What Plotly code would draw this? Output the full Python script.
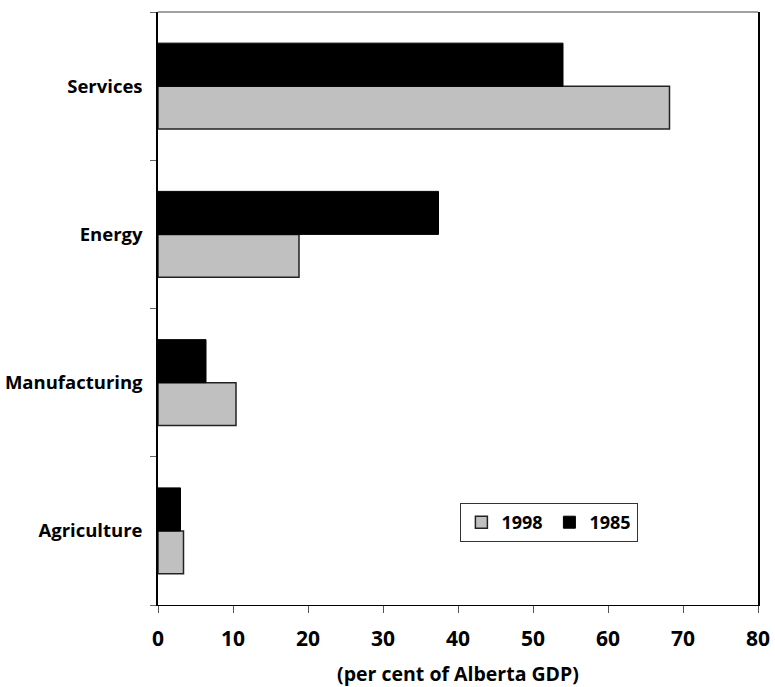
import plotly.graph_objects as go

# Share of Alberta GDP by sector (per cent)
sectors = ["Agriculture", "Manufacturing", "Energy", "Services"]
share_1998 = [3.4, 10.4, 18.8, 68.2]
share_1985 = [3.0, 6.4, 37.4, 54.0]
x_ticks = [0, 10, 20, 30, 40, 50, 60, 70, 80]

FONT = "Open Sans"

fig = go.Figure()
fig.add_trace(go.Bar(
    y=sectors, x=share_1998, name="1998", orientation="h",
    marker=dict(color="#c0c0c0", line=dict(color="#222222", width=1.5)),
))
fig.add_trace(go.Bar(
    y=sectors, x=share_1985, name="1985", orientation="h",
    marker=dict(color="#000000", line=dict(color="#000000", width=1)),
))

fig.update_layout(
    width=775, height=687,
    margin=dict(l=158, r=17, t=12, b=82, autoexpand=False),
    paper_bgcolor="white", plot_bgcolor="white",
    barmode="group", bargap=0.42, bargroupgap=0,
    font=dict(family=FONT, color="black"),
    showlegend=True,
    legend=dict(
        orientation="h", x=0.504, y=0.172, xanchor="left", yanchor="top",
        bgcolor="white", bordercolor="#333333", borderwidth=1,
        font=dict(family=FONT, size=18, weight="bold"),
        traceorder="normal", itemwidth=30, entrywidth=43,
    ),
    xaxis=dict(
        range=[0, 80], tickvals=x_ticks, ticktext=[str(v) for v in x_ticks],
        showgrid=False, zeroline=False, automargin=False,
        showline=True, linecolor="black", linewidth=1,
        ticks="outside", ticklen=7, tickcolor="#555555",
        tickfont=dict(family=FONT, size=21, weight="bold"),
        ticklabelstandoff=8,
        title=dict(text="(per cent of Alberta GDP)",
                   font=dict(family=FONT, size=19.5, weight="bold"), standoff=18),
    ),
    yaxis=dict(
        type="category", categoryorder="array", categoryarray=sectors,
        showgrid=False, zeroline=False, automargin=False,
        showline=True, linecolor="black", linewidth=1.5, mirror=True,
        ticks="outside", ticklen=6, tickcolor="#666666", tickson="boundaries",
        tickfont=dict(family=FONT, size=18.5, weight="bold"),
        ticklabelstandoff=10,
    ),
    shapes=[dict(type="line", xref="paper", yref="paper", x0=0, x1=1, y0=1, y1=1,
                 line=dict(color="#808080", width=1.5))],
)

fig.write_html("out.html")
